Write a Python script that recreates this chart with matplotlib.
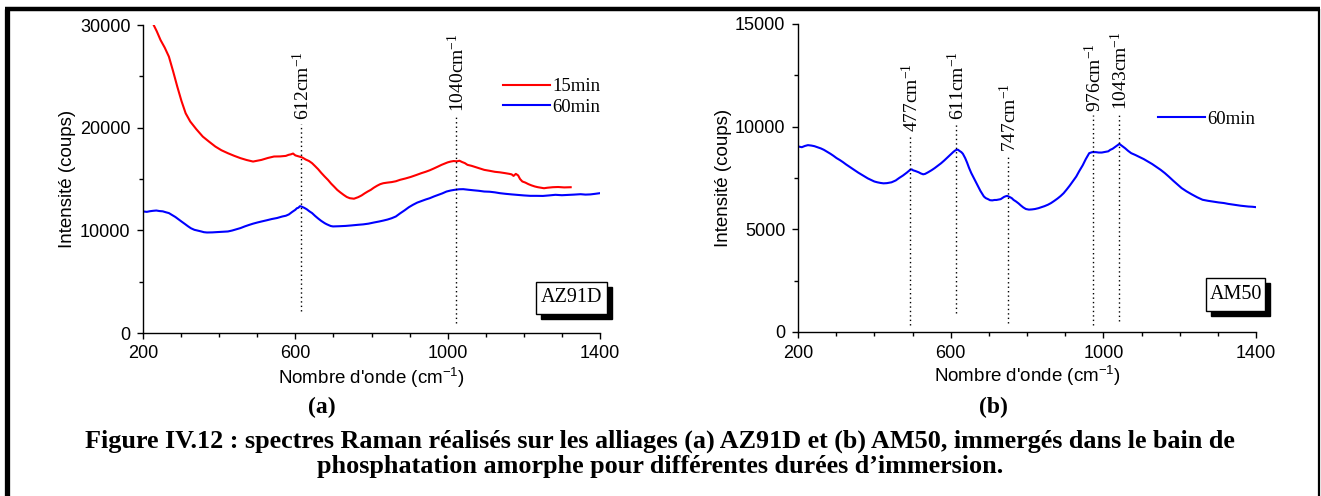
import matplotlib
matplotlib.use('Agg')
import matplotlib.pyplot as plt
from matplotlib.ticker import MultipleLocator
from matplotlib.patches import Rectangle
from matplotlib.lines import Line2D

# ---------------- data ----------------
a15_x = [228, 236, 246, 257, 268, 279, 290, 301, 312, 324, 340, 357, 373, 390, 406, 423, 440,
         456, 472, 489, 500, 511, 528, 544, 560, 575, 582, 588, 594, 600, 610, 618, 627, 636,
         644, 652, 660, 668, 677, 686, 694, 702, 710, 718, 727, 735, 743, 754, 765, 774, 782,
         790, 798, 806, 815, 823, 831, 842, 853, 864, 875, 889, 903, 917, 931, 942, 953, 964,
         975, 984, 992, 1000, 1008, 1016, 1024, 1031, 1038, 1045, 1052, 1063, 1074, 1085, 1096,
         1110, 1124, 1137, 1151, 1162, 1168, 1173, 1179, 1185, 1190, 1196, 1204, 1212, 1220,
         1229, 1237, 1245, 1253, 1262, 1276, 1290, 1306, 1323]
a15_y = [30000, 29400, 28540, 27800, 26920, 25500, 24000, 22600, 21400, 20600, 19850, 19130,
         18650, 18160, 17800, 17510, 17250, 17030, 16850, 16700, 16780, 16860, 17050, 17190,
         17200, 17250, 17350, 17400, 17480, 17300, 17190, 17100, 16900, 16750, 16540, 16250,
         15950, 15600, 15240, 14900, 14550, 14250, 13940, 13700, 13450, 13250, 13130, 13080,
         13230, 13400, 13600, 13780, 13940, 14150, 14350, 14500, 14590, 14650, 14700, 14780,
         14920, 15050, 15200, 15380, 15570, 15700, 15850, 16030, 16220, 16380, 16500, 16620,
         16700, 16750, 16720, 16780, 16650, 16550, 16380, 16280, 16150, 16020, 15890, 15800,
         15700, 15650, 15570, 15500, 15450, 15300, 15500, 15350, 15000, 14760, 14650, 14500,
         14380, 14270, 14200, 14150, 14100, 14150, 14200, 14220, 14180, 14200]

a60_x = [200, 210, 218, 226, 235, 243, 252, 260, 268, 276, 285, 293, 301, 310, 318, 326, 335,
         343, 352, 360, 368, 382, 395, 409, 423, 434, 445, 456, 467, 478, 489, 500, 511, 525,
         538, 552, 566, 575, 583, 592, 600, 604, 608, 612, 616, 623, 630, 637, 644, 652, 660,
         668, 677, 682, 688, 693, 699, 715, 732, 748, 765, 778, 792, 806, 820, 831, 842, 853,
         864, 875, 887, 898, 909, 920, 931, 942, 953, 964, 975, 986, 997, 1008, 1019, 1030,
         1041, 1055, 1068, 1082, 1096, 1110, 1124, 1137, 1151, 1168, 1184, 1200, 1217, 1233,
         1250, 1266, 1283, 1300, 1316, 1332, 1349, 1362, 1375, 1388, 1400]
a60_y = [11840, 11800, 11860, 11900, 11930, 11880, 11850, 11760, 11680, 11500, 11300, 11080,
         10860, 10620, 10400, 10200, 10050, 9980, 9900, 9820, 9790, 9800, 9830, 9860, 9890,
         9980, 10100, 10220, 10380, 10520, 10650, 10760, 10860, 10980, 11100, 11200, 11350,
         11420, 11550, 11800, 12000, 12150, 12200, 12350, 12320, 12200, 12050, 11850, 11680,
         11400, 11150, 10920, 10700, 10600, 10500, 10420, 10380, 10400, 10430, 10480, 10540,
         10580, 10650, 10760, 10860, 10950, 11050, 11180, 11350, 11650, 11950, 12250, 12490,
         12700, 12850, 13000, 13130, 13300, 13450, 13600, 13780, 13880, 13950, 14000, 14010,
         13950, 13900, 13850, 13780, 13760, 13700, 13620, 13560, 13500, 13450, 13400, 13360,
         13360, 13350, 13400, 13460, 13420, 13450, 13480, 13520, 13480, 13500, 13560, 13620]

b60_x = [202, 210, 218, 226, 235, 243, 252, 260, 268, 276, 285, 293, 301, 310, 318, 326, 334,
         342, 350, 358, 367, 375, 383, 392, 400, 408, 416, 424, 433, 439, 445, 450, 456, 465,
         475, 485, 494, 498, 502, 506, 510, 516, 522, 528, 533, 541, 550, 558, 566, 575, 583,
         591, 599, 603, 607, 611, 615, 619, 623, 628, 632, 638, 643, 648, 654, 662, 670, 678,
         687, 692, 698, 703, 709, 715, 720, 726, 731, 736, 740, 744, 748, 754, 760, 765, 771,
         778, 784, 790, 797, 805, 813, 821, 830, 838, 846, 855, 863, 871, 880, 888, 896, 904,
         912, 920, 929, 937, 946, 954, 963, 971, 980, 988, 996, 1002, 1007, 1013, 1018, 1024,
         1030, 1036, 1042, 1050, 1057, 1065, 1073, 1084, 1095, 1106, 1117, 1128, 1139, 1150,
         1161, 1172, 1183, 1194, 1205, 1218, 1232, 1246, 1260, 1274, 1288, 1302, 1316, 1327,
         1338, 1349, 1360, 1370, 1380, 1390, 1400]
b60_y = [9030, 9000, 9060, 9100, 9080, 9050, 8990, 8940, 8870, 8780, 8680, 8580, 8470, 8370,
         8270, 8160, 8060, 7960, 7860, 7760, 7660, 7570, 7480, 7400, 7330, 7290, 7260, 7240,
         7250, 7270, 7290, 7330, 7380, 7500, 7620, 7760, 7900, 7920, 7870, 7850, 7820, 7780,
         7720, 7680, 7700, 7780, 7880, 7980, 8090, 8220, 8350, 8490, 8630, 8700, 8770, 8830,
         8870, 8880, 8820, 8760, 8680, 8470, 8250, 8000, 7740, 7450, 7150, 6870, 6600, 6520,
         6470, 6420, 6410, 6430, 6430, 6450, 6470, 6530, 6580, 6610, 6630, 6580, 6520, 6430,
         6360, 6260, 6160, 6070, 5990, 5960, 5970, 5990, 6030, 6080, 6130, 6200, 6280, 6380,
         6500, 6620, 6760, 6940, 7130, 7340, 7570, 7840, 8120, 8420, 8710, 8760, 8760, 8740,
         8740, 8760, 8780, 8800, 8870, 8920, 9000, 9080, 9160, 9050, 8950, 8820, 8710, 8620,
         8520, 8420, 8300, 8180, 8040, 7900, 7740, 7560, 7370, 7190, 7010, 6850, 6700, 6560,
         6440, 6390, 6350, 6310, 6280, 6240, 6210, 6180, 6150, 6130, 6110, 6100, 6080]

# peak markers: label value, drawn position, line top, line bottom
a_peak_labels = ["612", "1040"]
a_peak_pos = [614, 1022]
a_line_top = [20400, 21200]
a_line_bot = [2100, 1000]

b_peak_labels = ["477", "611", "747", "976", "1043"]
b_peak_pos = [494, 615, 750, 973, 1042]
b_line_top = [9600, 10170, 8630, 10580, 10660]
b_line_bot = [360, 920, 440, 360, 520]

series_a_names = ["15min", "60min"]
series_b_names = ["60min"]

xticks = [200, 600, 1000, 1400]
a_yticks = [0, 10000, 20000, 30000]
b_yticks = [0, 5000, 10000, 15000]

caption1 = "Figure IV.12 : spectres Raman réalisés sur les alliages (a) AZ91D et (b) AM50, immergés dans le bain de"
caption2 = "phosphatation amorphe pour différentes durées d\u2019immersion."

# ---------------- figure ----------------
W, H = 1321, 496
fig = plt.figure(figsize=(W / 100, H / 100), dpi=100)
fig.patch.set_facecolor('white')


def fx(px):
    return px / W


def fy(py):
    return 1 - py / H


SANS = 'Liberation Sans'
SERIF = 'Liberation Serif'
FS = 13

axA = fig.add_axes([fx(143), fy(333), fx(600) - fx(143), fy(25) - fy(333)])
axB = fig.add_axes([fx(798), fy(332), fx(1256) - fx(798), fy(24) - fy(332)])

for ax, yt, ymax, yminor in [(axA, a_yticks, 30000, 5000), (axB, b_yticks, 15000, 2500)]:
    ax.set_xlim(200, 1400)
    ax.set_ylim(0, ymax)
    ax.set_xticks(xticks)
    ax.set_yticks(yt)
    ax.xaxis.set_minor_locator(MultipleLocator(100))
    ax.yaxis.set_minor_locator(MultipleLocator(yminor))
    ax.spines['top'].set_visible(False)
    ax.spines['right'].set_visible(False)
    for s in ['left', 'bottom']:
        ax.spines[s].set_linewidth(1.0)
    ax.tick_params(which='both', direction='out', width=1.0)
    ax.tick_params(which='major', length=4, labelsize=FS, pad=5)
    ax.tick_params(which='minor', length=3)
    for lab in ax.get_xticklabels() + ax.get_yticklabels():
        lab.set_family(SANS)
    ax.set_xlabel("Nombre d'onde (cm$\\mathregular{^{-1}}$)", family=SANS, size=13.5)
    ax.set_ylabel("Intensité (coups)", family=SANS, size=13.5)
    ax.xaxis.label.set_va('center')
    ax.yaxis.label.set_va('center')

axA.xaxis.set_label_coords(0.5, (333 - 378) / 308)
axA.yaxis.set_label_coords((67 - 143) / 457, 0.5)
axB.xaxis.set_label_coords(0.5, (332 - 376) / 308)
axB.yaxis.set_label_coords((723 - 798) / 458, 0.5)

# curves
la, = axA.plot(a15_x, a15_y, color='#ff0000', lw=1.5, label=series_a_names[0])
lb, = axA.plot(a60_x, a60_y, color='#0000ff', lw=1.5, label=series_a_names[1])
lc, = axB.plot(b60_x, b60_y, color='#0000ff', lw=1.5, label=series_b_names[0])

# peak markers
for ax, labs, pos, top, bot in [(axA, a_peak_labels, a_peak_pos, a_line_top, a_line_bot),
                                (axB, b_peak_labels, b_peak_pos, b_line_top, b_line_bot)]:
    for lab, x, t, b in zip(labs, pos, top, bot):
        ax.vlines(x, b, t, colors='black', linestyles=(0, (1, 2.2)), lw=1.0)
        ax.text(x + 4, t + (300 if ax is axA else 150), lab + "cm$\\mathregular{^{-1}}$",
                rotation=90, ha='center', va='bottom', family=SERIF, size=14)

# legends
legA = axA.legend(handles=[la, lb], loc='center left',
                  bbox_to_anchor=(fx(503), fy(97)), bbox_transform=fig.transFigure,
                  frameon=False, prop={'family': SERIF, 'size': 13.5},
                  handlelength=2.5, handletextpad=0.15, labelspacing=0.2,
                  borderpad=0, borderaxespad=0)
legB = axB.legend(handles=[lc], loc='center left',
                  bbox_to_anchor=(fx(1158), fy(119)), bbox_transform=fig.transFigure,
                  frameon=False, prop={'family': SERIF, 'size': 13.5},
                  handlelength=2.5, handletextpad=0.15, borderpad=0, borderaxespad=0)


# inset name boxes with shadow
def name_box(x0, y0, x1, y1, text):
    sh = 5
    fig.add_artist(Rectangle((fx(x0 + sh), fy(y1 + sh)), fx(x1 - x0), fy(y0) - fy(y1),
                             transform=fig.transFigure, facecolor='black', edgecolor='black'))
    fig.add_artist(Rectangle((fx(x0), fy(y1)), fx(x1 - x0), fy(y0) - fy(y1),
                             transform=fig.transFigure, facecolor='white', edgecolor='black', lw=1))
    fig.text(fx((x0 + x1) / 2), fy((y0 + y1) / 2), text, ha='center', va='center',
             family=SERIF, size=14.5)


name_box(536, 282, 607, 314, "AZ91D")
name_box(1206, 278, 1265, 311, "AM50")

# panel letters
fig.text(fx(322), fy(407), "(a)", ha='center', va='center', family=SERIF, size=17, weight='bold')
fig.text(fx(993), fy(407), "(b)", ha='center', va='center', family=SERIF, size=17, weight='bold')

# caption
fig.text(fx(660), fy(441), caption1, ha='center', va='center', family=SERIF, size=18.8, weight='bold')
fig.text(fx(660), fy(466), caption2, ha='center', va='center', family=SERIF, size=18.8, weight='bold')

# outer frame (left, top, right)
fig.add_artist(Line2D([fx(6.5), fx(6.5)], [0, fy(9)], transform=fig.transFigure, color='black', lw=3.8,
                      solid_capstyle='butt'))
fig.add_artist(Line2D([fx(4.5), fx(1320)], [fy(9), fy(9)], transform=fig.transFigure, color='black', lw=3.2,
                      solid_capstyle='butt'))
fig.add_artist(Line2D([fx(1319), fx(1319)], [0, fy(9)], transform=fig.transFigure, color='black', lw=1.6,
                      solid_capstyle='butt'))

fig.savefig('out.png', dpi=100)
